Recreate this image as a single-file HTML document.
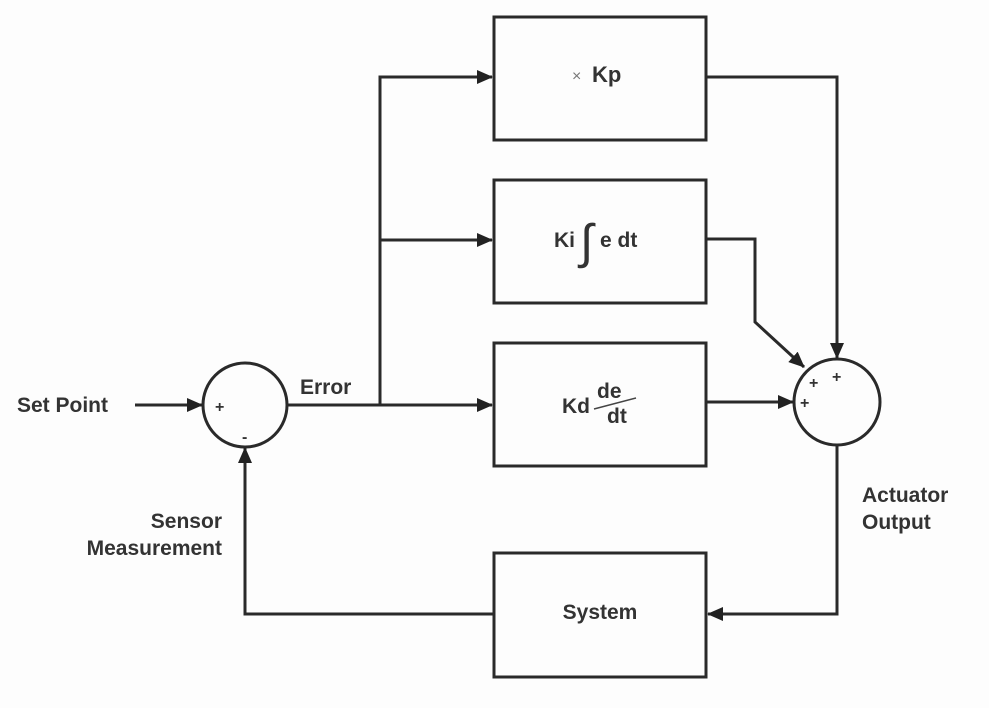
<!DOCTYPE html>
<html><head><style>
html,body{margin:0;padding:0;background:#fdfdfd;}
svg{display:block}
text{font-family:"Liberation Sans",Arial,sans-serif;font-weight:bold;fill:#333;}
</style></head><body>
<svg width="989" height="708" viewBox="0 0 989 708" xmlns="http://www.w3.org/2000/svg">
<defs><marker id="a" markerWidth="16" markerHeight="14" refX="15" refY="7" orient="auto" markerUnits="userSpaceOnUse"><path d="M0,0 L16,7 L0,14 z" fill="#222"/></marker></defs>
<g stroke="#2a2a2a" stroke-width="3" fill="none">
<rect x="494" y="17" width="212" height="123"/>
<rect x="494" y="180" width="212" height="123"/>
<rect x="494" y="343" width="212" height="123"/>
<rect x="494" y="553" width="212" height="124"/>
<circle cx="245" cy="405" r="42"/>
<circle cx="837" cy="402" r="43"/>
<line x1="135" y1="405" x2="202" y2="405" marker-end="url(#a)"/>
<line x1="287" y1="405" x2="492" y2="405" marker-end="url(#a)"/>
<polyline points="380,405 380,77 492,77" marker-end="url(#a)"/>
<line x1="380" y1="240" x2="492" y2="240" marker-end="url(#a)"/>
<polyline points="706,77 837,77 837,358" marker-end="url(#a)"/>
<polyline points="706,239 755,239 755,322 804,367" marker-end="url(#a)"/>
<line x1="706" y1="402" x2="793" y2="402" marker-end="url(#a)"/>
<polyline points="837,445 837,614 708,614" marker-end="url(#a)"/>
<polyline points="494,614 245,614 245,448" marker-end="url(#a)"/>
</g>
<text x="17" y="412" font-size="21">Set Point</text>
<text x="300" y="394" font-size="21">Error</text>
<text x="222" y="528" font-size="21" text-anchor="end">Sensor</text>
<text x="222" y="555" font-size="21" text-anchor="end">Measurement</text>
<text x="862" y="502" font-size="21">Actuator</text>
<text x="862" y="529" font-size="21">Output</text>
<text x="600" y="619" font-size="21" text-anchor="middle">System</text>
<text x="215" y="412" font-size="16">+</text>
<text x="242" y="442" font-size="16">-</text>
<text x="809" y="388" font-size="16">+</text>
<text x="832" y="382" font-size="16">+</text>
<text x="800" y="408" font-size="16">+</text>
<text x="572" y="81" font-size="16" style="font-weight:normal;fill:#777">×</text>
<text x="592" y="82" font-size="22">Kp</text>
<text x="554" y="247" font-size="21">Ki</text>
<text x="580" y="258" font-size="48" style="font-weight:normal;fill:#333">∫</text>
<text x="600" y="247" font-size="21">e dt</text>
<text x="562" y="413" font-size="21">Kd</text>
<text x="597" y="398" font-size="21">de</text>
<text x="607" y="423" font-size="21">dt</text>
<line x1="594" y1="409" x2="636" y2="398" stroke="#444" stroke-width="1.5"/>
</svg>
</body></html>
